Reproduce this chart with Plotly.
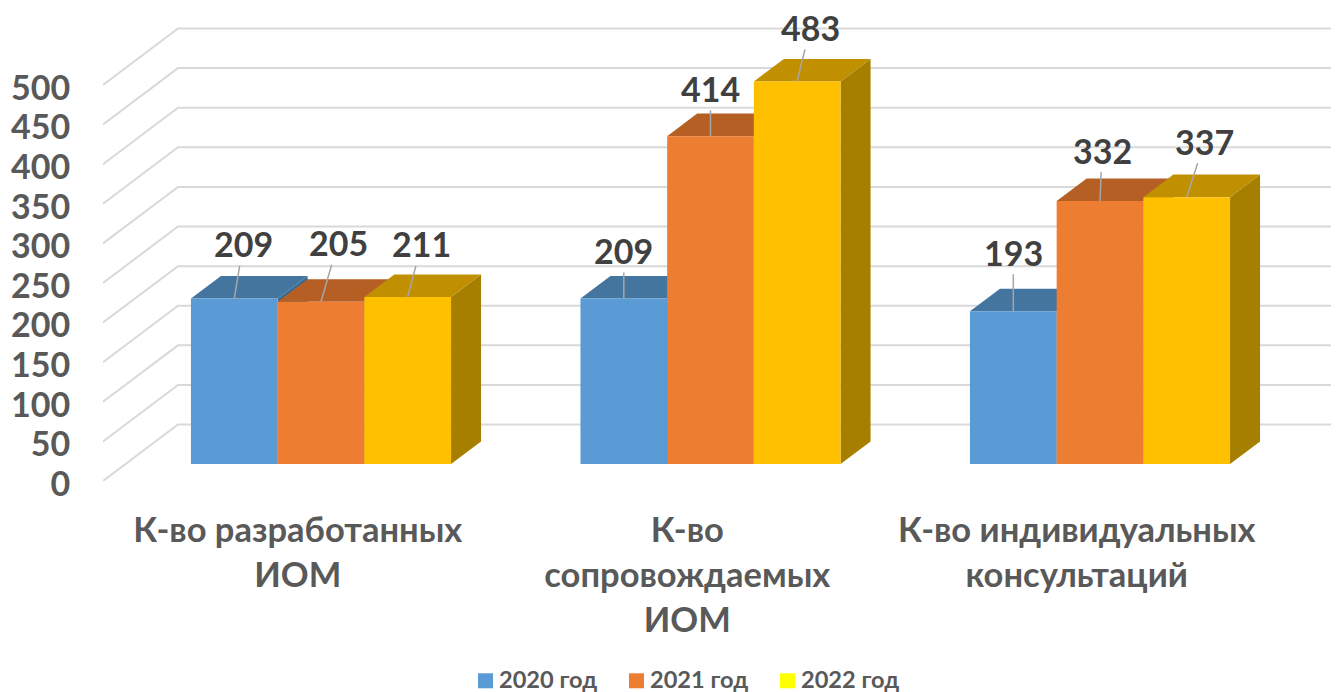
import plotly.graph_objects as go

categories = ["К-во разработанных<br>ИОМ", "К-во<br>сопровождаемых<br>ИОМ", "К-во индивидуальных<br>консультаций"]
series_names = ["2020 год", "2021 год", "2022 год"]
values_2020 = [209, 209, 193]
values_2021 = [205, 414, 332]
values_2022 = [211, 483, 337]
y_ticks = [0, 50, 100, 150, 200, 250, 300, 350, 400, 450, 500]

front_colors = ["#5B9BD5", "#ED7D31", "#FFC000"]
top_colors = ["#44759F", "#B65F25", "#C09000"]
side_colors = ["#3B6A94", "#A35420", "#A67E00"]
legend_colors = ["#5B9BD5", "#ED7D31", "#FFFF00"]

# label offsets from the bar's top edge, in pixels
label_dx = [[9, 17, 14], [0, 0, 13], [0, 2, 18]]
label_dy = [[-55, -59, -53], [-48, -48, -54], [-59, -51, -56]]

FONT = "Lato, 'Open Sans', sans-serif"
PAGE = 8              # default body margin of the written page
W, H = 1339 - PAGE, 692 - PAGE
ML, PLOT_BOTTOM = 103 - PAGE, 481.5 - PAGE
MB = H - PLOT_BOTTOM
PX_X = 389.5          # px per category
PX_Y = 0.793          # px per value unit
WALL_X = 75 / PX_X    # depth of the chart box
WALL_Y = 56.5 / PX_Y
FLOOR_X, FLOOR_Y = 0.31 * WALL_X, 16.9 / PX_Y
BAR_D = 0.40
BAR_W = 86.7 / PX_X

series = [values_2020, values_2021, values_2022]
fig = go.Figure()

# back wall + side wall gridlines
gx, gy = [], []
x_max = (W - ML) / PX_X
for t in y_ticks:
    gx += [0, WALL_X, x_max, None]
    gy += [t, t + WALL_Y, t + WALL_Y, None]
fig.add_trace(go.Scatter(x=gx, y=gy, mode="lines", line=dict(color="#D9D9D9", width=2),
                         hoverinfo="skip", showlegend=False, zorder=0))

dx, dy = BAR_D * WALL_X, BAR_D * WALL_Y
annotations = []
for c in range(len(categories)):
    for s in range(3):
        v = series[s][c]
        xc = c + 0.5 + FLOOR_X + (s - 1) * BAR_W
        xl, xr = xc - BAR_W / 2, xc + BAR_W / 2
        top = v + FLOOR_Y
        fig.add_trace(go.Scatter(x=[xr, xr, xr + dx, xr + dx, xr], y=[FLOOR_Y, top, top + dy, FLOOR_Y + dy, FLOOR_Y],
                                 mode="lines", fill="toself", fillcolor=side_colors[s], line=dict(width=0),
                                 hoverinfo="skip", showlegend=False, zorder=1))
        fig.add_trace(go.Scatter(x=[xl, xr, xr + dx, xl + dx, xl], y=[top, top, top + dy, top + dy, top],
                                 mode="lines", fill="toself", fillcolor=top_colors[s], line=dict(width=0),
                                 hoverinfo="skip", showlegend=False, zorder=1))
        annotations.append(dict(x=xc, y=top, xref="x", yref="y", text=f"<b>{v}</b>", showarrow=True,
                                arrowhead=0, arrowwidth=1.5, arrowcolor="#A6A6A6", standoff=0,
                                ax=label_dx[c][s], ay=label_dy[c][s], axref="pixel", ayref="pixel",
                                font=dict(family=FONT, size=34, color="#404040")))

for s in range(3):
    xs = [c + 0.5 + FLOOR_X + (s - 1) * BAR_W for c in range(len(categories))]
    fig.add_trace(go.Bar(x=xs, y=series[s], base=[FLOOR_Y] * len(xs), width=BAR_W, name=series_names[s],
                         marker=dict(color=front_colors[s], line=dict(width=0)),
                         showlegend=False, zorder=2))

# legend: swatch + text, placed in page pixels
LEG_X = [478, 629, 780]
shapes = []
plot_w, plot_h = W - ML, H - MB
px = lambda x: (x - PAGE - ML) / plot_w
py = lambda y: (PLOT_BOTTOM + PAGE - y) / plot_h
for s in range(3):
    shapes.append(dict(type="rect", xref="paper", yref="paper", x0=px(LEG_X[s]), x1=px(LEG_X[s] + 15),
                       y0=py(689), y1=py(674), fillcolor=legend_colors[s], line=dict(width=0)))
    annotations.append(dict(xref="paper", yref="paper", x=px(LEG_X[s] + 19), y=py(680), xanchor="left", yanchor="middle",
                            text=f"<b>{series_names[s]}</b>", showarrow=False,
                            font=dict(family=FONT, size=23.6, color="#595959")))

fig.update_layout(
    width=W, height=H, autosize=False, barmode="overlay", showlegend=False,
    margin=dict(l=ML, r=0, t=0, b=MB, pad=0),
    paper_bgcolor="white", plot_bgcolor="white",
    font=dict(family=FONT),
    xaxis=dict(range=[0, x_max], tickmode="array", tickvals=[0.5, 1.5, 2.5],
               ticktext=[f"<b>{t}</b>".replace("<br>", "</b><br><b>") for t in categories],
               tickfont=dict(family=FONT, size=34.5, color="#595959"),
               ticks="outside", ticklen=19, tickcolor="rgba(0,0,0,0)",
               showgrid=False, zeroline=False, showline=False, tickangle=0),
    yaxis=dict(range=[0, plot_h / PX_Y], tickmode="array", tickvals=y_ticks,
               ticktext=[f"<b>{t}</b>" for t in y_ticks],
               tickfont=dict(family=FONT, size=34, color="#595959"),
               ticks="outside", ticklen=25, tickcolor="rgba(0,0,0,0)", ticklabelshift=3,
               showgrid=False, zeroline=False, showline=False),
    shapes=shapes,
    annotations=annotations,
)
fig.write_html("out.html")
